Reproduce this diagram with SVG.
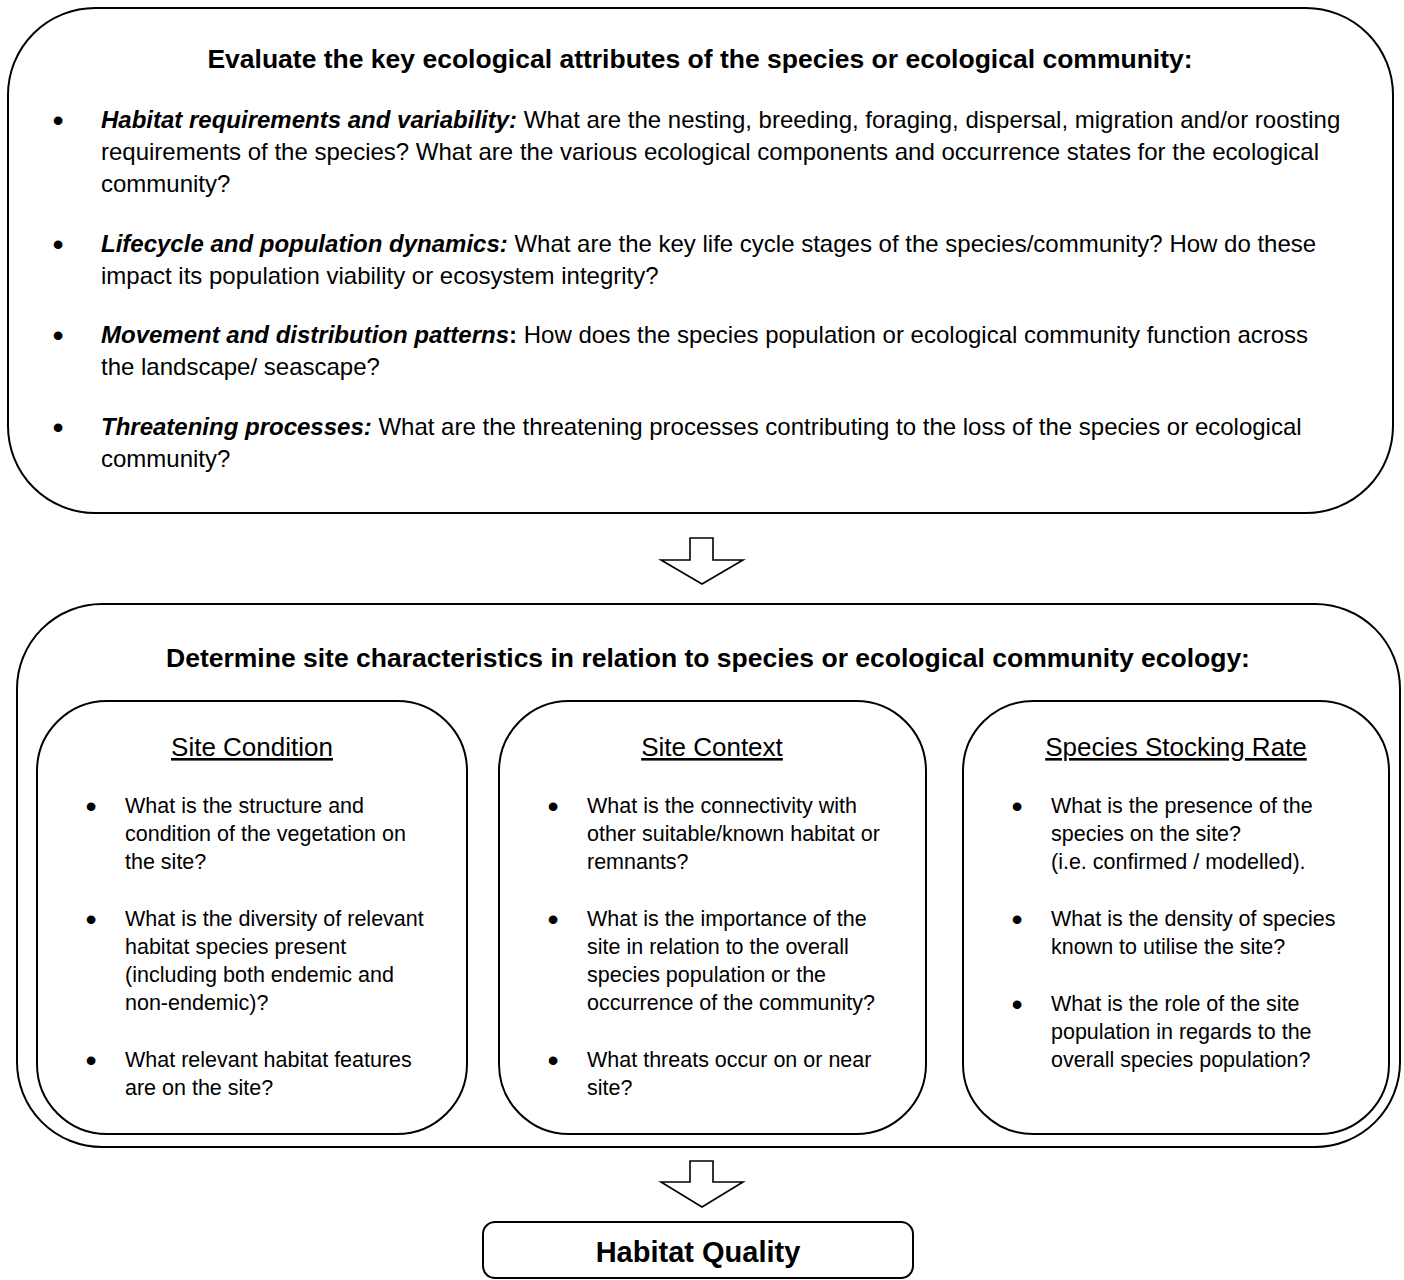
<svg xmlns="http://www.w3.org/2000/svg" width="1404" height="1280" viewBox="0 0 1404 1280">
<style>
text{font-family:"Liberation Sans",Arial,sans-serif;fill:#000}
.box{fill:#fff;stroke:#000;stroke-width:2}
.arrow{fill:#fff;stroke:#000;stroke-width:1.6;stroke-linejoin:miter}
.title{font-size:26.5px;font-weight:bold;text-anchor:middle}
.top{font-size:24px}
.body{font-size:21.5px}
.bi{font-weight:bold;font-style:italic}
.b{font-weight:bold}
.bul{font-size:32px;text-anchor:middle}
.head{font-size:26px;text-anchor:middle;text-decoration:underline}
.hq{font-size:29px;font-weight:bold;text-anchor:middle}
</style>
<rect width="1404" height="1280" fill="#fff"/>

<g id="node-evaluate">
<rect class="box" x="8" y="8" width="1385" height="505" rx="87" ry="87"/>
<text class="title" x="700" y="68">Evaluate the key ecological attributes of the species or ecological community:</text>
<text class="bul" x="58" y="131">•</text>
<text class="top" x="101" y="128"><tspan class="bi">Habitat requirements and variability:</tspan> What are the nesting, breeding, foraging, dispersal, migration and/or roosting</text>
<text class="top" x="101" y="160">requirements of the species? What are the various ecological components and occurrence states for the ecological</text>
<text class="top" x="101" y="192">community?</text>
<text class="bul" x="58" y="255">•</text>
<text class="top" x="101" y="252"><tspan class="bi">Lifecycle and population dynamics:</tspan> What are the key life cycle stages of the species/community? How do these</text>
<text class="top" x="101" y="284">impact its population viability or ecosystem integrity?</text>
<text class="bul" x="58" y="346">•</text>
<text class="top" x="101" y="343"><tspan class="bi">Movement and distribution patterns</tspan><tspan class="b">:</tspan> How does the species population or ecological community function across</text>
<text class="top" x="101" y="375">the landscape/ seascape?</text>
<text class="bul" x="58" y="438">•</text>
<text class="top" x="101" y="435"><tspan class="bi">Threatening processes:</tspan> What are the threatening processes contributing to the loss of the species or ecological</text>
<text class="top" x="101" y="467">community?</text>
</g>

<g id="node-determine">
<rect class="box" x="17" y="604" width="1383" height="543" rx="85" ry="85"/>
<text class="title" x="708" y="667">Determine site characteristics in relation to species or ecological community ecology:</text>
</g>

<g id="node-site-condition">
<rect class="box" x="37" y="701" width="430" height="433" rx="70" ry="70"/>
<text class="head" x="252" y="756">Site Condition</text>
<text class="bul" x="91" y="817">•</text>
<text class="body" x="125" y="813">What is the structure and</text>
<text class="body" x="125" y="841">condition of the vegetation on</text>
<text class="body" x="125" y="869">the site?</text>
<text class="bul" x="91" y="930">•</text>
<text class="body" x="125" y="926">What is the diversity of relevant</text>
<text class="body" x="125" y="954">habitat species present</text>
<text class="body" x="125" y="982">(including both endemic and</text>
<text class="body" x="125" y="1010">non-endemic)?</text>
<text class="bul" x="91" y="1071">•</text>
<text class="body" x="125" y="1067">What relevant habitat features</text>
<text class="body" x="125" y="1095">are on the site?</text>
</g>

<g id="node-site-context">
<rect class="box" x="499" y="701" width="427" height="433" rx="70" ry="70"/>
<text class="head" x="712" y="756">Site Context</text>
<text class="bul" x="553" y="817">•</text>
<text class="body" x="587" y="813">What is the connectivity with</text>
<text class="body" x="587" y="841">other suitable/known habitat or</text>
<text class="body" x="587" y="869">remnants?</text>
<text class="bul" x="553" y="930">•</text>
<text class="body" x="587" y="926">What is the importance of the</text>
<text class="body" x="587" y="954">site in relation to the overall</text>
<text class="body" x="587" y="982">species population or the</text>
<text class="body" x="587" y="1010">occurrence of the community?</text>
<text class="bul" x="553" y="1071">•</text>
<text class="body" x="587" y="1067">What threats occur on or near</text>
<text class="body" x="587" y="1095">site?</text>
</g>

<g id="node-stocking-rate">
<rect class="box" x="963" y="701" width="426" height="433" rx="70" ry="70"/>
<text class="head" x="1176" y="756">Species Stocking Rate</text>
<text class="bul" x="1017" y="817">•</text>
<text class="body" x="1051" y="813">What is the presence of the</text>
<text class="body" x="1051" y="841">species on the site?</text>
<text class="body" x="1051" y="869">(i.e. confirmed / modelled).</text>
<text class="bul" x="1017" y="930">•</text>
<text class="body" x="1051" y="926">What is the density of species</text>
<text class="body" x="1051" y="954">known to utilise the site?</text>
<text class="bul" x="1017" y="1015">•</text>
<text class="body" x="1051" y="1011">What is the role of the site</text>
<text class="body" x="1051" y="1039">population in regards to the</text>
<text class="body" x="1051" y="1067">overall species population?</text>
</g>

<g id="node-habitat-quality">
<rect class="box" x="483" y="1222" width="430" height="56" rx="12" ry="12"/>
<text class="hq" x="698" y="1262">Habitat Quality</text>
</g>

<g id="connectors">
<polygon class="arrow" points="690,538 713,538 713,560 743,560 702,584 661,560 690,560"/>
<polygon class="arrow" points="690,1161 713,1161 713,1182 743,1182 702,1207 661,1182 690,1182"/>
</g>
</svg>
